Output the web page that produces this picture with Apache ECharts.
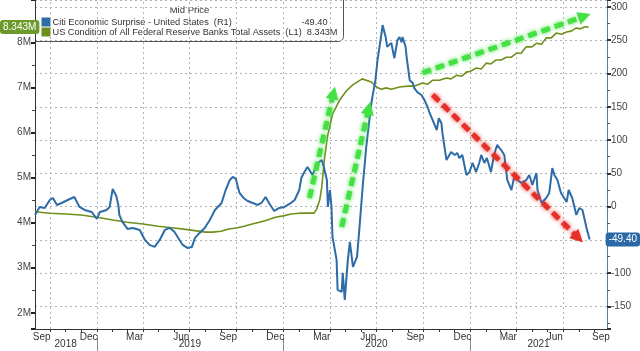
<!DOCTYPE html>
<html>
<head>
<meta charset="utf-8">
<script src="https://cdn.jsdelivr.net/npm/echarts@6/dist/echarts.min.js"></script>
<style>
html, body { margin: 0; padding: 0; background: #fff; }
#chart { width: 640px; height: 351px; }
</style>
</head>
<body>
<div id="chart"></div>
<script>
// ---- data ----
const citiDates = [
    '2018-09-02', '2018-09-11', '2018-09-21', '2018-10-01', '2018-10-07', '2018-10-15', '2018-10-24',
    '2018-11-05', '2018-11-18', '2018-11-28', '2018-12-08', '2018-12-22', '2019-01-01', '2019-01-07',
    '2019-01-20', '2019-01-26', '2019-02-01', '2019-02-08', '2019-02-12', '2019-02-14', '2019-02-20',
    '2019-03-02', '2019-03-12', '2019-03-26', '2019-04-05', '2019-04-14', '2019-04-24', '2019-05-04',
    '2019-05-14', '2019-05-24', '2019-06-02', '2019-06-08', '2019-06-18', '2019-06-27', '2019-07-06',
    '2019-07-12', '2019-07-21', '2019-07-31', '2019-08-10', '2019-08-20', '2019-09-02', '2019-09-10',
    '2019-09-18', '2019-09-24', '2019-09-30', '2019-10-07', '2019-10-15', '2019-10-23', '2019-11-02',
    '2019-11-12', '2019-11-19', '2019-11-27', '2019-12-05', '2019-12-14', '2019-12-24', '2020-01-03',
    '2020-01-13', '2020-01-23', '2020-02-01', '2020-02-05', '2020-02-11', '2020-02-17', '2020-02-27',
    '2020-03-08', '2020-03-16', '2020-03-20', '2020-03-26', '2020-03-28', '2020-04-01', '2020-04-04',
    '2020-04-06', '2020-04-14', '2020-04-16', '2020-04-24', '2020-04-26', '2020-04-30', '2020-05-06',
    '2020-05-10', '2020-05-16', '2020-05-24', '2020-05-30', '2020-06-04', '2020-06-11', '2020-06-21',
    '2020-06-29', '2020-07-03', '2020-07-11', '2020-07-13', '2020-07-19', '2020-07-22', '2020-07-30',
    '2020-08-05', '2020-08-11', '2020-08-15', '2020-08-19', '2020-08-21', '2020-08-27', '2020-08-29',
    '2020-09-04', '2020-09-10', '2020-09-13', '2020-09-19', '2020-09-27', '2020-10-03', '2020-10-09',
    '2020-10-13', '2020-10-19', '2020-10-27', '2020-10-31', '2020-11-05', '2020-11-07', '2020-11-15',
    '2020-11-24', '2020-12-01', '2020-12-06', '2020-12-10', '2020-12-16', '2020-12-24', '2020-12-30',
    '2021-01-05', '2021-01-12', '2021-01-18', '2021-01-22', '2021-01-28', '2021-02-02', '2021-02-10',
    '2021-02-16', '2021-02-22', '2021-03-02', '2021-03-08', '2021-03-14', '2021-03-22', '2021-03-27',
    '2021-04-03', '2021-04-10', '2021-04-20', '2021-04-26', '2021-05-02', '2021-05-10', '2021-05-12',
    '2021-05-20', '2021-05-29', '2021-06-04', '2021-06-10', '2021-06-14', '2021-06-20', '2021-06-27',
    '2021-07-08', '2021-07-12', '2021-07-19', '2021-07-27', '2021-08-02', '2021-08-08', '2021-08-16',
    '2021-08-22'
];
const citiValues = [
    -12.5, -0.5, -2, 10, 13, 2.5, 5.5,
    10, 14.5, -0.5, -5, -8, -18.5, -8,
    -5, -0.5, 26.6, 16, 2.5, -12.5, -23,
    -33.5, -32, -35, -50, -57.5, -60.5, -50,
    -35, -32, -38, -45.5, -57.5, -62, -60.5,
    -47, -39.5, -32, -20, -5, 5.5, 25,
    40, 44.6, 41.6, 20.6, 13, 8.5, 5.5,
    2.5, 5.5, 14.5, 4, -6.5, -2, -0.5,
    4, 10, 25, 43, 52, 59.6, 47.6,
    65.6, 70, 59.6, 40, -0.5, 25, -0.5,
    -45.5, -80, -125, -128, -99.5, -140, -80,
    -53, -90.5, -75.5, -20, 29.6, 89.6, 155.7,
    190, 220, 260.8, 272.8, 255, 240, 246,
    223, 250, 254.8, 247, 254.8, 240, 225,
    190, 185.7, 178, 172, 167.7, 160, 149.7,
    140.7, 130, 115, 133, 125.7, 110.7, 70,
    82, 77.6, 80.6, 73, 77.6, 47.6, 52,
    65.6, 52, 65.6, 77.6, 65.6, 73, 52,
    77.6, 92.7, 85, 77.6, 40, 25, 43,
    40, 35.6, 40, 47.6, 32.6, 50.6, 25,
    5.5, 13, 20.6, 58, 47.6, 40, 20.6,
    7, 25, 13, -12.5, -2, -5, -32,
    -49.4
];

const fedDates = [
    '2018-09-02', '2018-10-01', '2018-11-01', '2018-12-01', '2019-01-01', '2019-02-01', '2019-03-01',
    '2019-04-01', '2019-05-01', '2019-06-01', '2019-07-01', '2019-08-01', '2019-08-16', '2019-09-01',
    '2019-09-16', '2019-10-01', '2019-10-16', '2019-11-01', '2019-11-15', '2019-12-01', '2019-12-16',
    '2020-01-01', '2020-01-16', '2020-02-01', '2020-02-15', '2020-03-01', '2020-03-06', '2020-03-12',
    '2020-03-16', '2020-03-21', '2020-03-27', '2020-04-06', '2020-04-20', '2020-05-03', '2020-05-15',
    '2020-06-03', '2020-06-21', '2020-07-01', '2020-07-10', '2020-07-20', '2020-07-30', '2020-08-15',
    '2020-09-01', '2020-09-14', '2020-09-29', '2020-10-09', '2020-10-19', '2020-11-01', '2020-11-15',
    '2020-11-24', '2020-12-05', '2020-12-15', '2020-12-24', '2021-01-01', '2021-01-12', '2021-01-22',
    '2021-02-01', '2021-02-10', '2021-02-20', '2021-03-02', '2021-03-12', '2021-03-22', '2021-04-01',
    '2021-04-10', '2021-04-20', '2021-05-01', '2021-05-10', '2021-05-20', '2021-05-29', '2021-06-08',
    '2021-06-18', '2021-06-28', '2021-07-08', '2021-07-17', '2021-07-27', '2021-08-04', '2021-08-12',
    '2021-08-20'
];
const fedValues = [
    4.24, 4.21, 4.19, 4.17, 4.12, 4.06, 4.01,
    3.97, 3.92, 3.88, 3.84, 3.79, 3.79, 3.81,
    3.86, 3.88, 3.92, 3.97, 4.01, 4.06, 4.12,
    4.15, 4.19, 4.21, 4.21, 4.21, 4.30, 4.50,
    4.79, 5.39, 5.90, 6.41, 6.72, 6.92, 7.05,
    7.19, 7.12, 7.01, 6.96, 6.99, 6.96, 7.01,
    7.03, 7.03, 7.10, 7.07, 7.16, 7.16, 7.21,
    7.19, 7.27, 7.25, 7.34, 7.36, 7.43, 7.41,
    7.54, 7.52, 7.61, 7.61, 7.67, 7.67, 7.76,
    7.76, 7.90, 7.90, 7.98, 7.96, 8.10, 8.10,
    8.21, 8.18, 8.23, 8.25, 8.32, 8.30, 8.34,
    8.343
];

const citiLast = -49.40;
const fedLast = 8.343;

// annotation arrows [date, R1 value]
const greenArrowFrom = [['2020-02-21', 13], ['2020-04-24', -30.5], ['2020-09-29', 201]];
const greenArrowTo = [['2020-04-08', 171], ['2020-06-16', 148], ['2021-08-12', 286]];
const redArrowFrom = [['2020-10-19', 168]];
const redArrowTo = [['2021-07-31', -47]];

// axis ticks and labels
const quarterLines = [
    '2018-10-01', '2019-01-01', '2019-04-01', '2019-07-01', '2019-10-01', '2020-01-01',
    '2020-04-01', '2020-07-01', '2020-10-01', '2021-01-01', '2021-04-01', '2021-07-01'
];
const monthTicks = [
    '2018-10-01', '2018-11-01', '2018-12-01', '2019-01-01', '2019-02-01', '2019-03-01',
    '2019-04-01', '2019-05-01', '2019-06-01', '2019-07-01', '2019-08-01', '2019-09-01',
    '2019-10-01', '2019-11-01', '2019-12-01', '2020-01-01', '2020-02-01', '2020-03-01',
    '2020-04-01', '2020-05-01', '2020-06-01', '2020-07-01', '2020-08-01', '2020-09-01',
    '2020-10-01', '2020-11-01', '2020-12-01', '2021-01-01', '2021-02-01', '2021-03-01',
    '2021-04-01', '2021-05-01', '2021-06-01', '2021-07-01', '2021-08-01', '2021-09-01'
];
const monthLabelDates = [
    '2018-09-15', '2018-12-16', '2019-03-16', '2019-06-15', '2019-09-15', '2019-12-16', '2020-03-16',
    '2020-06-15', '2020-09-15', '2020-12-16', '2021-03-16', '2021-06-15', '2021-09-13'
];
const monthNames = ['Jan', 'Feb', 'Mar', 'Apr', 'May', 'Jun', 'Jul', 'Aug', 'Sep', 'Oct', 'Nov', 'Dec'];
const yearLabelDates = ['2018-11-01', '2019-07-02', '2020-07-01', '2021-05-14'];
const yearBreaks = ['2019-01-01', '2020-01-01', '2021-01-01'];

const xMin = '2018-09-02';
const xMax = '2021-09-25';

// ---- chart ----
const FONT = 'Liberation Sans, sans-serif';
const BLUE = '#2d6ca7';
const OLIVE = '#6f8f1c';
const GREEN_ARROW = '#45e045';
const RED_ARROW = '#e5302a';

// dates -> ms so a plain value axis can take custom tick positions
const ts = d => new Date(d + 'T00:00:00').getTime();
const pairs = (dates, values) => dates.map((d, i) => [ts(d), values[i]]);

const chart = echarts.init(document.getElementById('chart'), null, { renderer: 'canvas' });

function arrowLines(from, to, color) {
    return from.map((p, i) => [
        {
            coord: [ts(p[0]), p[1]],
            symbol: 'none',
            lineStyle: { color, width: 5, type: [9, 5], shadowBlur: 4, shadowColor: color },
            itemStyle: { color },
        },
        { coord: [ts(to[i][0]), to[i][1]], symbol: 'triangle', symbolSize: 13, itemStyle: { color } }
    ]);
}

const option = {
    animation: false,
    textStyle: { fontFamily: FONT },
    grid: { left: 35, right: 33, top: 0, bottom: 22, outerBoundsMode: 'none' },
    xAxis: [
        {
            type: 'value',
            min: ts(xMin),
            max: ts(xMax),
            position: 'bottom',
            axisLine: { onZero: false, lineStyle: { color: '#333', width: 1 } },
            axisTick: { show: true, customValues: monthTicks.map(ts), length: 3, lineStyle: { color: '#333' } },
            axisLabel: {
                customValues: monthLabelDates.map(ts),
                formatter: v => monthNames[new Date(v).getMonth()],
                color: '#333',
                fontSize: 10,
                margin: 3,
            },
            splitLine: { show: false },
        },
        {
            type: 'value',
            min: ts(xMin),
            max: ts(xMax),
            position: 'bottom',
            offset: 6,
            axisLine: { show: false, onZero: false },
            axisTick: { show: true, customValues: yearBreaks.map(ts), length: 16, lineStyle: { color: '#888' } },
            axisLabel: {
                customValues: yearLabelDates.map(ts),
                formatter: v => String(new Date(v).getFullYear()),
                color: '#333',
                fontSize: 10,
                margin: 4,
            },
            splitLine: { show: false },
        },
    ],
    yAxis: [
        {
            type: 'value',
            position: 'left',
            min: 1.64,
            max: 8.94,
            splitNumber: 7,
            axisLine: { show: true, onZero: false, lineStyle: { color: '#333' } },
            axisTick: { show: true, length: 4, lineStyle: { color: '#222', width: 2 } },
            minorTick: { show: true, splitNumber: 2, length: 3, lineStyle: { color: '#444' } },
            axisLabel: {
                color: '#444',
                fontSize: 10,
                margin: 4,
                showMinLabel: false,
                showMaxLabel: false,
                formatter: v => v + 'M',
            },
            splitLine: { show: false },
            axisPointer: {
                show: true,
                type: 'none',
                value: fedLast,
                status: 'show',
                triggerTooltip: false,
                label: {
                    show: true,
                    formatter: p => p.value.toFixed(3) + 'M',
                    backgroundColor: '#6b9a2a',
                    color: '#fff',
                    fontSize: 10,
                    fontFamily: FONT,
                    padding: [2, 3, 2, 3],
                    borderRadius: 3,
                    margin: 2,
                },
            },
        },
        {
            type: 'value',
            position: 'right',
            min: -183.8,
            max: 310.4,
            splitNumber: 10,
            axisLine: { show: true, onZero: false, lineStyle: { color: '#5b7ea3' } },
            axisTick: { show: true, length: 4, lineStyle: { color: '#333', width: 2 } },
            minorTick: { show: true, splitNumber: 2, length: 3, lineStyle: { color: '#555' } },
            axisLabel: {
                color: '#444',
                fontSize: 10,
                margin: 4,
                showMinLabel: false,
                showMaxLabel: false,
            },
            splitLine: { show: true, lineStyle: { color: '#b3b3b3', type: [2, 3], width: 1 } },
            axisPointer: {
                show: true,
                type: 'none',
                value: citiLast,
                status: 'show',
                triggerTooltip: false,
                label: {
                    show: true,
                    formatter: p => p.value.toFixed(2),
                    backgroundColor: '#2a69a6',
                    color: '#fff',
                    fontSize: 10,
                    fontFamily: FONT,
                    padding: [2, 3, 2, 3],
                    borderRadius: 3,
                    margin: 2,
                },
            },
        },
    ],
    series: [
        {
            name: 'US Condition of All Federal Reserve Banks Total Assets',
            type: 'line',
            xAxisIndex: 0,
            yAxisIndex: 0,
            data: pairs(fedDates, fedValues),
            showSymbol: false,
            lineStyle: { color: OLIVE, width: 1.6 },
            z: 3,
            markLine: {
                silent: true,
                symbol: 'none',
                z: 1,
                label: { show: false },
                lineStyle: { color: '#b3b3b3', type: [2, 3], width: 1 },
                data: quarterLines.map(d => ({ xAxis: ts(d) })),
            },
        },
        {
            name: 'Citi Economic Surprise - United States',
            type: 'line',
            xAxisIndex: 0,
            yAxisIndex: 1,
            data: pairs(citiDates, citiValues),
            showSymbol: false,
            lineStyle: { color: BLUE, width: 2 },
            z: 4,
            markLine: {
                silent: true,
                z: 10,
                label: { show: false },
                data: arrowLines(greenArrowFrom, greenArrowTo, GREEN_ARROW)
                    .concat(arrowLines(redArrowFrom, redArrowTo, RED_ARROW)),
            },
        },
    ],
    graphic: [
        {
            type: 'group',
            left: 35,
            top: -5,
            z: 100,
            children: [
                { type: 'rect', shape: { x: 0, y: 0, width: 308, height: 46, r: [0, 0, 5, 0] },
                  style: { fill: '#fff', stroke: '#555', lineWidth: 1 } },
                { type: 'text', x: 154, y: 15, style: { text: 'Mid Price', align: 'center', verticalAlign: 'middle', fill: '#333', font: '9.5px ' + FONT } },
                { type: 'rect', shape: { x: 6, y: 22, width: 9, height: 9 }, style: { fill: BLUE } },
                { type: 'text', x: 17, y: 27, style: { text: 'Citi Economic Surprise - United States  (R1)', verticalAlign: 'middle', fill: '#333', font: '9.2px ' + FONT } },
                { type: 'text', x: 292, y: 27, style: { text: citiLast.toFixed(2), align: 'right', verticalAlign: 'middle', fill: '#333', font: '9.2px ' + FONT } },
                { type: 'rect', shape: { x: 6, y: 32, width: 9, height: 9 }, style: { fill: OLIVE } },
                { type: 'text', x: 17, y: 37, style: { text: 'US Condition of All Federal Reserve Banks Total Assets  (L1)', verticalAlign: 'middle', fill: '#333', font: '9.2px ' + FONT } },
                { type: 'text', x: 302, y: 37, style: { text: fedLast.toFixed(3) + 'M', align: 'right', verticalAlign: 'middle', fill: '#333', font: '9.2px ' + FONT } },
            ],
        },
    ],
};

chart.setOption(option);
</script>
</body>
</html>
